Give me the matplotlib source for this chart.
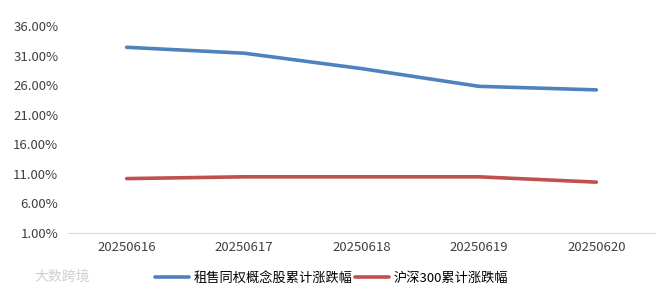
import matplotlib.pyplot as plt
from matplotlib.ticker import FuncFormatter

plt.rcParams['font.family'] = ['Noto Sans CJK SC', 'DejaVu Sans']

dates = ["20250616", "20250617", "20250618", "20250619", "20250620"]
concept_pct = [32.4, 31.4, 28.8, 25.8, 25.2]
hs300_pct = [10.2, 10.5, 10.5, 10.5, 9.6]
y_ticks = [1, 6, 11, 16, 21, 26, 31, 36]

fig = plt.figure(figsize=(6.63, 2.93), dpi=100)
ax = fig.add_axes([68 / 663, 1 - 233 / 293, 587 / 663, 207 / 293])

x = range(len(dates))
ax.plot(x, concept_pct, color="#4f81bd", lw=2.6, label="租售同权概念股累计涨跌幅",
        solid_capstyle="round")
ax.plot(x, hs300_pct, color="#c0504d", lw=2.6, label="沪深300累计涨跌幅",
        solid_capstyle="round")

ax.set_xlim(-0.5, len(dates) - 0.5)
ax.set_ylim(1, 36)
ax.set_yticks(y_ticks)
ax.yaxis.set_major_formatter(FuncFormatter(lambda v, p: "%.2f%%" % v))
ax.set_xticks(list(x))
ax.set_xticklabels(dates)

for s in ["top", "right", "left"]:
    ax.spines[s].set_visible(False)
ax.spines["bottom"].set_color("#d9d9d9")
ax.tick_params(axis="both", length=0, labelsize=9.5, colors="#404040")
ax.tick_params(axis="x", pad=6)
ax.tick_params(axis="y", pad=7)

fig.legend(loc="center", bbox_to_anchor=(0.5, 1 - 278 / 293), ncol=2, frameon=False,
           fontsize=9.5, handlelength=2.6, columnspacing=0.2, handletextpad=0.3)
fig.text(34 / 663, 1 - 277 / 293, "大数跨境", color="#d0d0d0", fontsize=10, va="center")

fig.savefig("out.png", dpi=100)
